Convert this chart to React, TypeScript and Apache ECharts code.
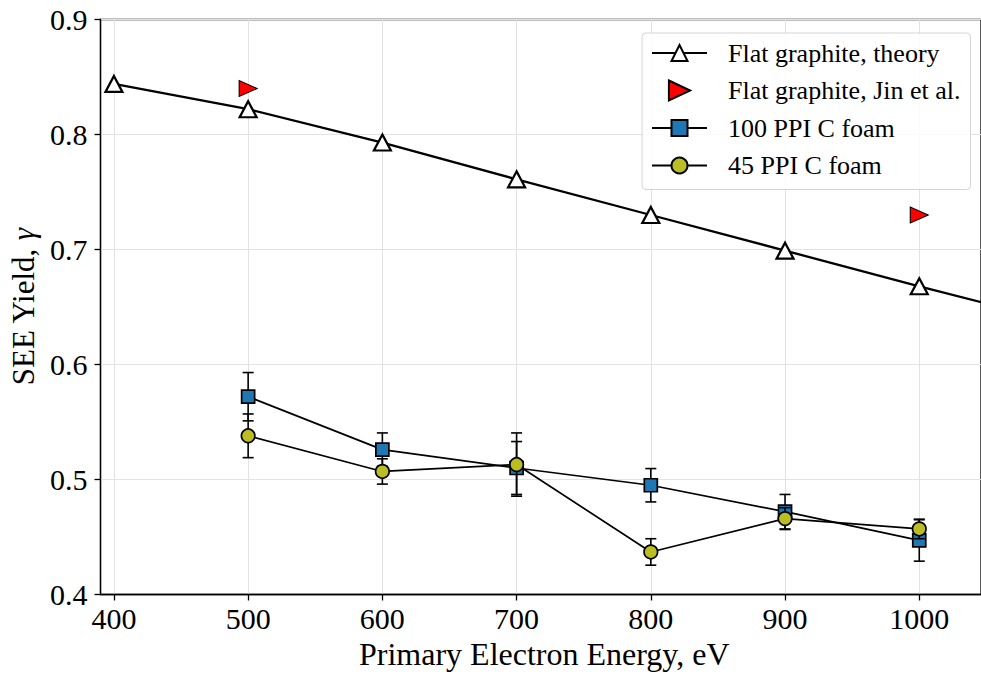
import React, { useEffect, useRef } from "react";
import * as echarts from "echarts";

// Flat graphite: theoretical SEE yield (line continues past the right edge)
const energyTheory = [400, 500, 600, 700, 800, 900, 1000, 1100];
const yieldTheory = [0.844, 0.822, 0.793, 0.761, 0.73, 0.699, 0.668, 0.638];

// Flat graphite, Jin et al.
const energyJin = [500, 1000];
const yieldJin = [0.84, 0.73];

// Carbon foam measurements
const energyFoam = [500, 600, 700, 800, 900, 1000];
const yield100 = [0.572, 0.526, 0.51, 0.495, 0.472, 0.447];
const err100 = [0.021, 0.0145, 0.023, 0.0145, 0.015, 0.018];
const yield45 = [0.538, 0.507, 0.513, 0.437, 0.466, 0.457];
const err45 = [0.019, 0.011, 0.0275, 0.0115, 0.0095, 0.0085];

const xTicks = [400, 500, 600, 700, 800, 900, 1000];

const FONT = "Liberation Serif";

const NAME_THEORY = "Flat graphite, theory";
const NAME_JIN = "Flat graphite, Jin et al.";
const NAME_100 = "100 PPI C foam";
const NAME_45 = "45 PPI C foam";

// right-pointing triangle for the legend entry of the reference data
const RIGHT_TRIANGLE = "path://M0,0 L18,8.5 L0,17 Z";

const pairs = (xs: number[], ys: number[]) => xs.map((x, i) => [x, ys[i]]);
const bars = (xs: number[], ys: number[], es: number[]) =>
  xs.map((x, i) => [x, ys[i] - es[i], ys[i] + es[i]]);

function errorBarSeries(data: number[][], z: number) {
  return {
    type: "custom",
    z,
    silent: true,
    encode: { x: 0, y: [1, 2] },
    data,
    renderItem: (_params: any, api: any) => {
      const x = api.value(0);
      const top = api.coord([x, api.value(2)]);
      const bot = api.coord([x, api.value(1)]);
      const hw = 5.5;
      const style = { stroke: "#000", lineWidth: 1.6, fill: "none" };
      return {
        type: "group",
        children: [
          { type: "line", shape: { x1: top[0], y1: top[1], x2: bot[0], y2: bot[1] }, style },
          { type: "line", shape: { x1: top[0] - hw, y1: top[1], x2: top[0] + hw, y2: top[1] }, style },
          { type: "line", shape: { x1: bot[0] - hw, y1: bot[1], x2: bot[0] + hw, y2: bot[1] }, style },
        ],
      };
    },
  };
}

export default function App() {
  const ref = useRef<HTMLDivElement>(null);

  useEffect(() => {
    if (!ref.current) return;
    const chart = echarts.init(ref.current, null, { renderer: "svg" });

    const axisLine = { show: true, lineStyle: { color: "#000", width: 1.3 } };
    const axisTick = { show: true, inside: false, length: 6, lineStyle: { color: "#000", width: 1.3 } };
    const splitLine = { show: true, lineStyle: { color: "#e2e2e2", width: 1 } };

    chart.setOption({
      animation: false,
      backgroundColor: "#fff",
      textStyle: { fontFamily: FONT },
      grid: {
        left: 100.5,
        top: 19.5,
        right: -0.5,
        bottom: 82.5,
        show: true,
        borderColor: "#000",
        borderWidth: 1.3,
        backgroundColor: "transparent",
      },
      legend: {
        orient: "vertical",
        left: 642,
        top: 33,
        padding: [6, 10, 10, 9],
        itemWidth: 55,
        itemHeight: 20,
        itemGap: 9.5,
        backgroundColor: "rgba(255,255,255,0.85)",
        borderColor: "#d4d4d4",
        borderWidth: 1,
        borderRadius: 4,
        z: 20,
        data: [
          NAME_THEORY,
          { name: NAME_JIN, icon: RIGHT_TRIANGLE },
          NAME_100,
          NAME_45,
        ],
        textStyle: {
          fontFamily: FONT,
          fontSize: 26,
          color: "#000",
          lineHeight: 28,
          padding: [0, 0, 0, 16],
        },
      },
      xAxis: {
        type: "value",
        min: 390,
        max: 1046,
        name: "Primary Electron Energy, eV",
        nameLocation: "middle",
        nameGap: 42,
        nameTextStyle: { fontFamily: FONT, fontSize: 32, color: "#000", padding: [0, 0, 0, 7] },
        axisLine,
        axisTick: { ...axisTick, customValues: xTicks },
        axisLabel: {
          customValues: xTicks,
          fontFamily: FONT,
          fontSize: 30,
          color: "#000",
          margin: 9,
          formatter: (v: number) => String(v),
        },
        splitLine,
      },
      yAxis: {
        type: "value",
        min: 0.4,
        max: 0.9,
        interval: 0.1,
        name: "SEE Yield, {g|γ}",
        nameLocation: "middle",
        nameGap: 60,
        nameTextStyle: {
          fontFamily: FONT,
          fontSize: 31,
          color: "#000",
          rich: { g: { fontFamily: FONT, fontSize: 31, fontStyle: "italic", color: "#000" } },
        },
        axisLine,
        axisTick,
        axisLabel: {
          fontFamily: FONT,
          fontSize: 30,
          color: "#000",
          margin: 13,
          formatter: (v: number) => v.toFixed(1),
        },
        splitLine,
      },
      series: [
        {
          name: NAME_THEORY,
          type: "line",
          z: 2,
          data: pairs(energyTheory, yieldTheory),
          symbol: "triangle",
          symbolSize: [17, 16],
          showAllSymbol: true,
          lineStyle: { color: "#000", width: 2.3 },
          itemStyle: { color: "#fff", borderColor: "#000", borderWidth: 2.2 },
        },
        {
          name: NAME_JIN,
          type: "scatter",
          z: 2,
          data: pairs(energyJin, yieldJin),
          symbol: "triangle",
          symbolRotate: -90,
          symbolSize: [16, 18],
          itemStyle: { color: "#ff0000", borderColor: "#000", borderWidth: 1, opacity: 1 },
        },
        errorBarSeries(bars(energyFoam, yield100, err100), 3),
        {
          name: NAME_100,
          type: "line",
          z: 4,
          data: pairs(energyFoam, yield100),
          symbol: "rect",
          symbolSize: 13,
          showAllSymbol: true,
          lineStyle: { color: "#000", width: 1.7 },
          itemStyle: { color: "#1f77b4", borderColor: "#000", borderWidth: 1.7 },
        },
        errorBarSeries(bars(energyFoam, yield45, err45), 5),
        {
          name: NAME_45,
          type: "line",
          z: 6,
          data: pairs(energyFoam, yield45),
          symbol: "circle",
          symbolSize: 13.5,
          showAllSymbol: true,
          lineStyle: { color: "#000", width: 1.7 },
          itemStyle: { color: "#bcbd22", borderColor: "#000", borderWidth: 1.7 },
        },
      ],
    });

    return () => chart.dispose();
  }, []);

  return (
    <div
      ref={ref}
      style={{ position: "fixed", left: 0, top: 0, width: 981, height: 677, background: "#fff" }}
    />
  );
}
